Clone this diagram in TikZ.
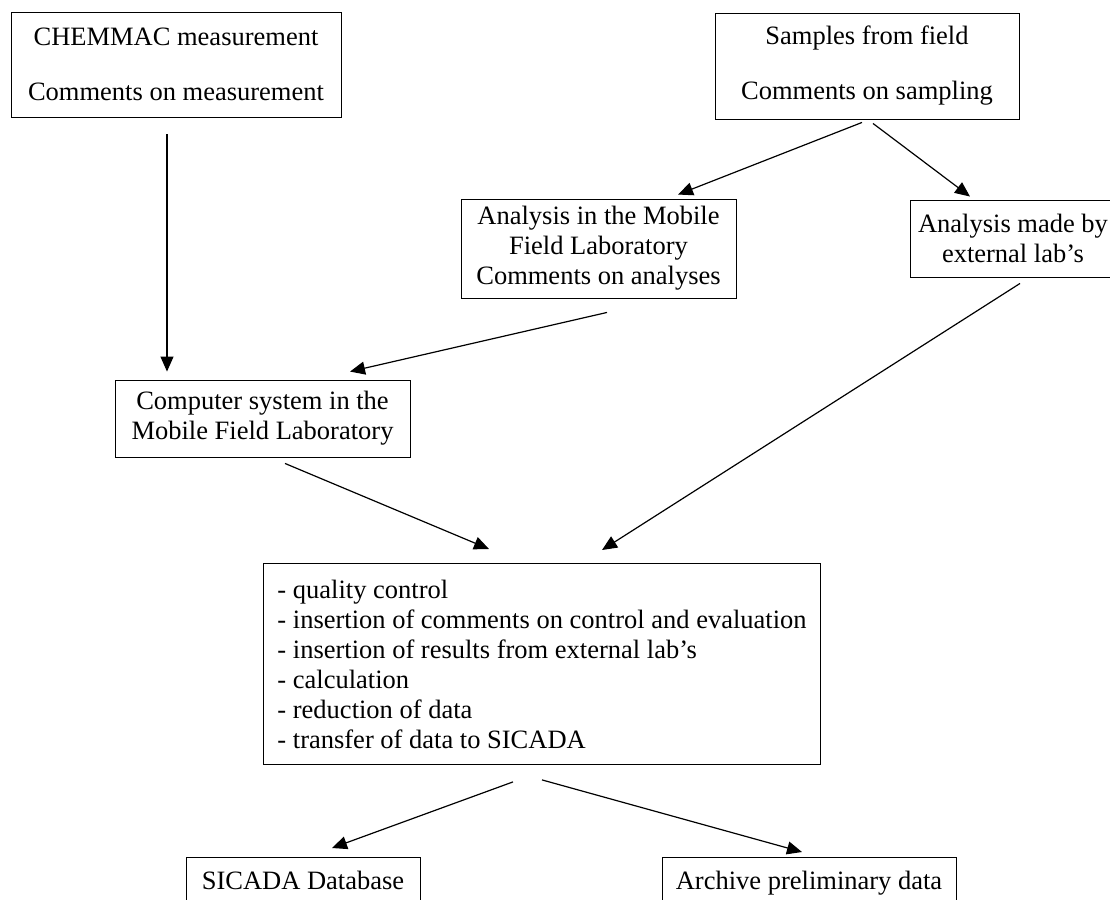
\documentclass[tikz,border=0pt]{standalone}
\usepackage{fontspec}
\setmainfont{Liberation Serif}
\usetikzlibrary{arrows.meta}

\begin{document}
\begin{tikzpicture}[x=1pt, y=-1pt,
    box/.style = {draw, line width=0.9pt, inner sep=0pt, align=center, font=\fontsize{26.5}{30}\selectfont},
    arr/.style = {line width=1.2pt, -{Triangle[length=15pt,width=13pt]}}]

        \useasboundingbox (0,0) rectangle (1110,899);
        \clip (0,0) rectangle (1110,899);

        \node[box, minimum width=330, minimum height=105] (1) at (176,64.5) {CHEMMAC measurement\\[25pt]Comments on measurement};
        \node[box, minimum width=304, minimum height=106] (2) at (867,66) {Samples from field\\[25pt]Comments on sampling};
        \node[box, minimum width=275, minimum height=99] (3) at (598.5,248.5) {Analysis in the Mobile\\Field Laboratory\\Comments on analyses};
        \node[box, minimum width=206, minimum height=77] (4) at (1013,238.5) {Analysis made by\\external lab's};
        \node[box, minimum width=295, minimum height=77] (5) at (262.5,418.5) {Computer system in the\\Mobile Field Laboratory};
        \node[box, align=left, inner xsep=14pt, minimum height=201, anchor=north west] (6) at (263,563) {- quality control\\- insertion of comments on control and evaluation\\- insertion of results from external lab's\\- calculation\\- reduction of data\\- transfer of data to SICADA};
        \node[box, minimum width=234, minimum height=52, text height=19pt, text depth=6pt, anchor=north] (7) at (303,857) {SICADA Database};
        \node[box, minimum width=294, minimum height=52, text height=19pt, text depth=6pt, anchor=north] (8) at (809,857) {Archive preliminary data};

        %\draw  node[fill,circle,scale=0.3]{} (0,0);

        \draw[arr] ([xshift=-9pt,yshift=-17pt]1.south) -- ([xshift=-95.5pt,yshift=8pt]5.north);
        \draw[arr] ([xshift=-5pt,yshift=-3pt]2.south) -- ([xshift=79.5pt,yshift=4pt]3.north);
        \draw[arr] ([xshift=6pt,yshift=-4pt]2.south) -- ([xshift=-43pt,yshift=3pt]4.north);
        \draw[arr] ([xshift=8.5pt,yshift=-14pt]3.south) -- ([xshift=87.5pt,yshift=8pt]5.north);
        \draw[arr] ([xshift=7pt,yshift=-6pt]4.south) -- ([xshift=339pt,yshift=13pt]6.north west);
        \draw[arr] ([xshift=22.5pt,yshift=-6pt]5.south) -- ([xshift=226pt,yshift=14pt]6.north west);
        \draw[arr] ([xshift=250pt,yshift=-17pt]6.south west) -- ([xshift=29pt,yshift=9pt]7.north);
        \draw[arr] ([xshift=279pt,yshift=-15pt]6.south west) -- ([xshift=-7pt,yshift=5pt]8.north);
    \end{tikzpicture}
\end{document}
